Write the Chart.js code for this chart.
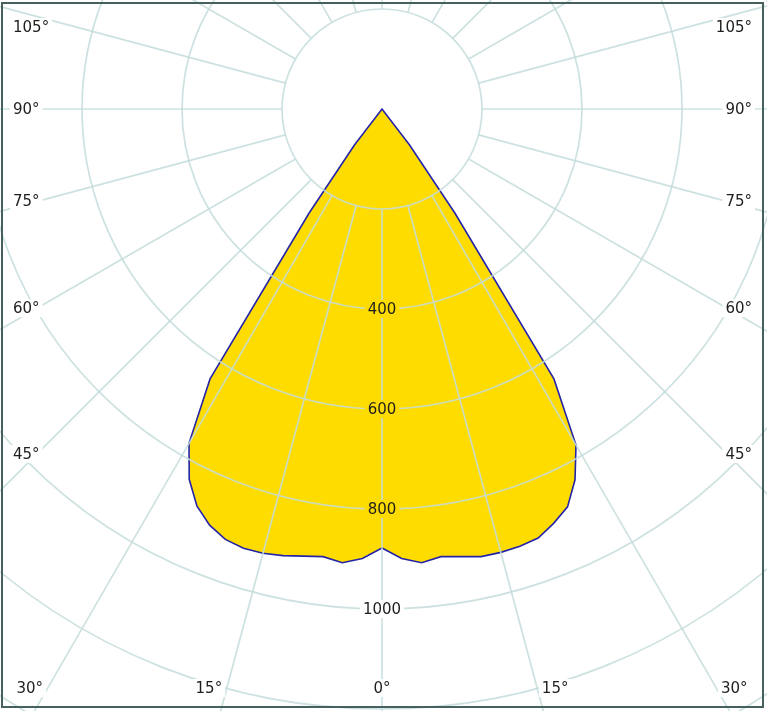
<!DOCTYPE html>
<html>
<head>
<meta charset="utf-8">
<script src="https://cdn.jsdelivr.net/npm/chart.js@4.4.1/dist/chart.umd.min.js"></script>
<style>
  html, body { margin: 0; padding: 0; background: #fff; }
  .view { position: relative; width: 767px; height: 711px; overflow: hidden; background: #fff; }
  #polar { position: absolute; }
</style>
</head>
<body>
<div class="view"><canvas id="polar" width="1600" height="1600"></canvas></div>
<script>
// gamma angle from nadir (deg) and luminous intensity (cd)
const gammaAngles = [0, 2.5, 5, 7.5, 10, 12.5, 15, 17.5, 20, 22.5, 25, 27.5, 30, 32.5, 35, 37.5, 40];
const intensityLeft = [878, 900, 911, 903, 908, 915, 920, 921, 916, 901, 876, 835, 772, 640, 254, 90, 0];
const intensityRight = [878, 900, 911, 903, 909, 917, 918, 917, 913, 897, 878, 836, 776, 640, 254, 90, 0];

const radialTicks = [400, 600, 800, 1000];
const sideAngleLabels = [45, 60, 75, 90, 105];
const bottomAngleLabels = [0, 15, 30];

const STEP = 2.5;
const CX = 382, CY = 109; // pole position inside the view
const SIZE = 1600;

const FILL = "#ffdc00";
const GRID = "rgba(196,220,220,0.85)";
const TEXT = "#1e1e1e";
const FONT = '15px "DejaVu Sans"';

// full 360 series, index 0 = nadir, going clockwise (left half first)
const labels = [];
const values = [];
for (let i = 0; i < 360 / STEP; i++) {
  const a = i * STEP;
  labels.push(a + "°");
  const li = gammaAngles.indexOf(a);
  const ri = gammaAngles.indexOf(360 - a);
  if (li >= 0) values.push(intensityLeft[li]);
  else if (ri >= 0) values.push(intensityRight[ri]);
  else values.push(0);
}

const canvas = document.getElementById("polar");
canvas.style.left = CX - SIZE / 2 + "px";
canvas.style.top = CY - SIZE / 2 + "px";

function drawLabel(ctx, text, x, y, align, bg) {
  ctx.font = FONT;
  const w = ctx.measureText(text).width;
  let left = x - w / 2;
  if (align === "left") left = x;
  if (align === "right") left = x - w;
  ctx.fillStyle = bg;
  ctx.fillRect(left - 3, y - 9, w + 6, 18);
  ctx.fillStyle = TEXT;
  ctx.textAlign = "left";
  ctx.textBaseline = "middle";
  ctx.fillText(text, left, y + 1);
}

const overlay = {
  id: "overlay",
  afterDraw(chart) {
    const { ctx } = chart;
    const r = chart.scales.r;
    const ox = r.xCenter - CX;
    const oy = r.yCenter - CY;

    ctx.save();

    // angle lines every 15 deg, starting at the 200 cd circle
    ctx.strokeStyle = GRID;
    ctx.lineWidth = 1.7;
    const inner = r.getDistanceFromCenterForValue(200);
    const outer = r.getDistanceFromCenterForValue(r.max);
    for (let i = 0; i < labels.length; i += 15 / STEP) {
      const p0 = r.getPointPosition(i, inner);
      const p1 = r.getPointPosition(i, outer);
      ctx.beginPath();
      ctx.moveTo(p0.x, p0.y);
      ctx.lineTo(p1.x, p1.y);
      ctx.stroke();
    }

    // intensity labels along the nadir axis
    radialTicks.forEach((v) => {
      const p = r.getPointPosition(0, r.getDistanceFromCenterForValue(v));
      drawLabel(ctx, String(v), p.x, p.y, "center", v < values[0] ? FILL : "#fff");
    });

    // angle labels on the sides
    sideAngleLabels.forEach((a) => {
      const t = (a * Math.PI) / 180;
      let y = r.yCenter + 345 / Math.tan(t);
      y = Math.max(y, oy + 27);
      drawLabel(ctx, a + "°", ox + 13, y, "left", "#fff");
      drawLabel(ctx, a + "°", ox + 752, y, "right", "#fff");
    });

    // angle labels at the bottom
    bottomAngleLabels.forEach((a) => {
      const d = 579 * Math.tan((a * Math.PI) / 180) + (a ? 18 : 0);
      drawLabel(ctx, a + "°", r.xCenter - d, oy + 688, "center", "#fff");
      if (a) drawLabel(ctx, a + "°", r.xCenter + d, oy + 688, "center", "#fff");
    });

    // frame
    ctx.strokeStyle = "#466060";
    ctx.lineWidth = 2;
    ctx.strokeRect(ox + 2, oy + 3, 761, 704);

    ctx.restore();
  },
};

new Chart(canvas, {
  type: "radar",
  data: {
    labels,
    datasets: [
      {
        data: values,
        backgroundColor: FILL,
        borderColor: "#2424a8",
        borderWidth: 1.6,
        pointRadius: 0,
        pointHoverRadius: 0,
        fill: true,
      },
    ],
  },
  options: {
    responsive: false,
    animation: false,
    layout: { padding: 0 },
    plugins: {
      legend: { display: false },
      tooltip: { enabled: false },
    },
    scales: {
      r: {
        min: 0,
        max: 1600,
        startAngle: 180,
        z: 1,
        ticks: { display: false, stepSize: 200 },
        grid: { circular: true, color: GRID, lineWidth: 1.7, z: 1 },
        angleLines: { display: false },
        pointLabels: { display: false },
      },
    },
  },
  plugins: [overlay],
});
</script>
</body>
</html>
